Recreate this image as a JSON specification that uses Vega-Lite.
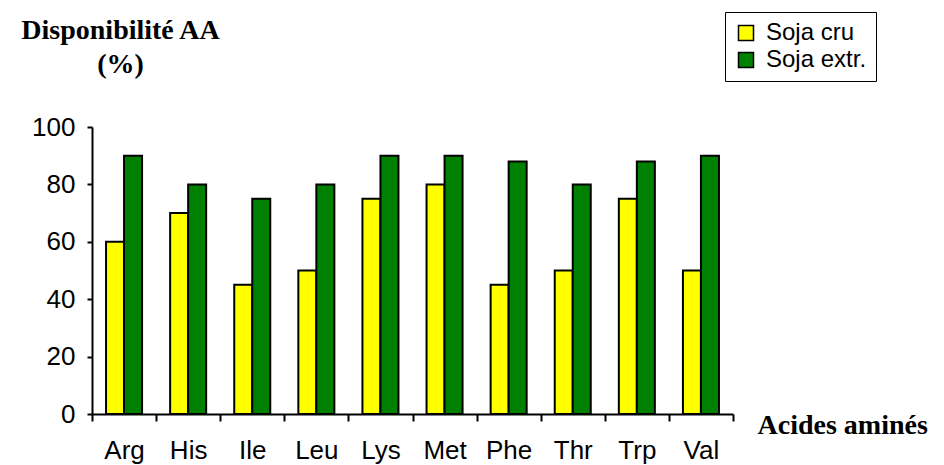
{
  "$schema": "https://vega.github.io/schema/vega-lite/v6.json",
  "width": 641,
  "height": 287,
  "autosize": "none",
  "padding": {"left": 92, "top": 127, "right": 211, "bottom": 51},
  "background": "white",
  "data": {
    "values": [
      {"acide": "Arg", "serie": "Soja cru", "valeur": 60},
      {"acide": "Arg", "serie": "Soja extr.", "valeur": 90},
      {"acide": "His", "serie": "Soja cru", "valeur": 70},
      {"acide": "His", "serie": "Soja extr.", "valeur": 80},
      {"acide": "Ile", "serie": "Soja cru", "valeur": 45},
      {"acide": "Ile", "serie": "Soja extr.", "valeur": 75},
      {"acide": "Leu", "serie": "Soja cru", "valeur": 50},
      {"acide": "Leu", "serie": "Soja extr.", "valeur": 80},
      {"acide": "Lys", "serie": "Soja cru", "valeur": 75},
      {"acide": "Lys", "serie": "Soja extr.", "valeur": 90},
      {"acide": "Met", "serie": "Soja cru", "valeur": 80},
      {"acide": "Met", "serie": "Soja extr.", "valeur": 90},
      {"acide": "Phe", "serie": "Soja cru", "valeur": 45},
      {"acide": "Phe", "serie": "Soja extr.", "valeur": 88},
      {"acide": "Thr", "serie": "Soja cru", "valeur": 50},
      {"acide": "Thr", "serie": "Soja extr.", "valeur": 80},
      {"acide": "Trp", "serie": "Soja cru", "valeur": 75},
      {"acide": "Trp", "serie": "Soja extr.", "valeur": 88},
      {"acide": "Val", "serie": "Soja cru", "valeur": 50},
      {"acide": "Val", "serie": "Soja extr.", "valeur": 90}
    ]
  },
  "mark": {"type": "bar", "stroke": "black", "strokeWidth": 2},
  "encoding": {
    "x": {
      "field": "acide",
      "type": "nominal",
      "sort": ["Arg", "His", "Ile", "Leu", "Lys", "Met", "Phe", "Thr", "Trp", "Val"],
      "scale": {"paddingInner": 0, "paddingOuter": 0},
      "axis": {
        "title": "Acides aminés",
        "labelAngle": 0,
        "tickBand": "extent",
        "domainColor": "black",
        "domainWidth": 2,
        "tickColor": "black",
        "tickWidth": 2,
        "tickSize": 7,
        "labelFont": "Liberation Sans",
        "labelFontSize": 26,
        "labelColor": "black",
        "labelBaseline": "alphabetic",
        "labelPadding": 37,
        "labelOverlap": false,
        "titleFont": "Liberation Serif",
        "titleFontSize": 28,
        "titleFontWeight": "bold",
        "titleColor": "black",
        "titleX": 665,
        "titleY": 19,
        "titleAlign": "left",
        "titleBaseline": "alphabetic"
      }
    },
    "xOffset": {
      "field": "serie",
      "type": "nominal",
      "sort": ["Soja cru", "Soja extr."],
      "scale": {"paddingOuter": 0.78, "paddingInner": 0}
    },
    "y": {
      "field": "valeur",
      "type": "quantitative",
      "scale": {"domain": [0, 100]},
      "axis": {
        "values": [0, 20, 40, 60, 80, 100],
        "grid": false,
        "domainColor": "black",
        "domainWidth": 2,
        "tickColor": "black",
        "tickWidth": 2,
        "tickSize": 5,
        "labelFont": "Liberation Sans",
        "labelFontSize": 26,
        "labelColor": "black",
        "labelPadding": 12,
        "title": ["Disponibilité AA", "(%)"],
        "titleFont": "Liberation Serif",
        "titleFontSize": 28,
        "titleFontWeight": "bold",
        "titleColor": "black",
        "titleAngle": 0,
        "titleX": 28,
        "titleY": -89,
        "titleAlign": "center",
        "titleBaseline": "alphabetic",
        "titleLineHeight": 34
      }
    },
    "fill": {
      "field": "serie",
      "type": "nominal",
      "scale": {"domain": ["Soja cru", "Soja extr."], "range": ["#FFFF00", "#008000"]},
      "legend": {
        "title": null,
        "orient": "none",
        "legendX": 633,
        "legendY": -115,
        "strokeColor": "black",
        "fillColor": "white",
        "padding": 9,
        "symbolType": "square",
        "symbolSize": 225,
        "symbolStrokeColor": "black",
        "symbolStrokeWidth": 1.5,
        "symbolOpacity": 1,
        "labelFont": "Liberation Sans",
        "labelFontSize": 24,
        "labelColor": "black",
        "labelOffset": 8,
        "rowPadding": 3
      }
    }
  },
  "config": {"view": {"stroke": null}}
}
